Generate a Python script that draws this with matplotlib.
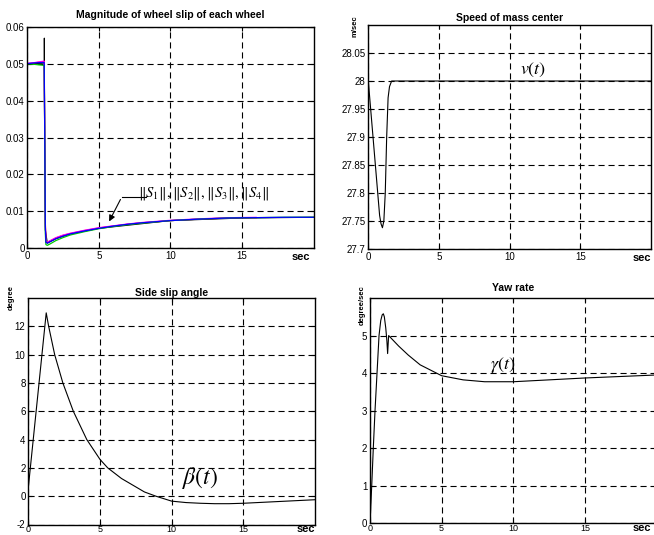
import numpy as np
import matplotlib
matplotlib.use('Agg')
import matplotlib.pyplot as plt

plt.rcParams['font.family'] = ['Liberation Sans', 'DejaVu Sans']
plt.rcParams['mathtext.fontset'] = 'stix'

W, H = 654, 535

# ---- wheel slip (top left) ----
t_slip = [0, 0.5, 1.0, 1.18, 1.22, 1.26, 1.3, 1.4, 1.6, 2.0, 2.5, 3.0, 4.0, 5.0,
          6.0, 7.0, 8.0, 10.0, 12.0, 14.0, 16.0, 18.0, 20.0]
slip_blue = [0.0500, 0.0502, 0.0503, 0.0503, 0.030, 0.006, 0.0016, 0.0014, 0.0018,
             0.0026, 0.0033, 0.0039, 0.0047, 0.0054, 0.0060, 0.0065, 0.0069, 0.0075,
             0.0079, 0.0082, 0.0083, 0.0084, 0.0084]
slip_green = [0.0500, 0.0498, 0.0496, 0.0495, 0.030, 0.004, 0.0010, 0.0008, 0.0012,
              0.0021, 0.0029, 0.0036, 0.0045, 0.0053, 0.0059, 0.0064, 0.0068, 0.0075,
              0.0079, 0.0082, 0.0083, 0.0084, 0.0084]
slip_red = [0.0500, 0.0502, 0.0505, 0.0506, 0.030, 0.007, 0.0018, 0.0016, 0.0020,
            0.0028, 0.0035, 0.0040, 0.0048, 0.0055, 0.0060, 0.0065, 0.0069, 0.0075,
            0.0079, 0.0082, 0.0083]
t_ref = [0, 1.0, 1.19, 1.19, 1.21, 1.26, 1.4, 2.0, 3.0, 5.0, 10.0, 15.0, 20.0]
slip_ref = [0.0500, 0.0501, 0.0502, 0.0569, 0.030, 0.005, 0.0014, 0.0026, 0.0039,
            0.0054, 0.0075, 0.0082, 0.0084]
slip_ticks = [0, 0.01, 0.02, 0.03, 0.04, 0.05, 0.06]
slip_labels = ['0', '0.01', '0.02', '0.03', '0.04', '0.05', '0.06']

# ---- speed (top right) ----
t_v = [0, 0.2, 0.4, 0.6, 0.8, 0.9, 1.0, 1.1, 1.2, 1.3, 1.4, 1.5, 1.65, 2.0, 20.0]
speed = [28.0, 27.94, 27.88, 27.82, 27.76, 27.745, 27.738, 27.75, 27.80, 27.90,
         27.97, 27.99, 28.0, 28.0, 28.0]
v_ticks = [27.7, 27.75, 27.8, 27.85, 27.9, 27.95, 28.0, 28.05]
v_labels = ['27.7', '27.75', '27.8', '27.85', '27.9', '27.95', '28', '28.05']

# ---- side slip angle (bottom left) ----
t_b = [0, 1.25, 1.42, 1.84, 2.41, 3.14, 4.08, 5.0, 5.54, 6.5, 8.1, 8.9, 10, 11, 12,
       13, 14, 15, 17, 20]
beta = [0.6, 12.95, 12.0, 10.0, 8.0, 6.0, 4.0, 2.6, 2.0, 1.25, 0.3, 0.0, -0.35,
        -0.45, -0.5, -0.53, -0.53, -0.5, -0.4, -0.25]
b_ticks = [-2, 0, 2, 4, 6, 8, 10, 12]

# ---- yaw rate (bottom right) ----
t_y = [0, 0.12, 0.23, 0.35, 0.49, 0.63, 0.75, 0.85, 0.93, 1.0, 1.1, 1.18, 1.23,
       1.3, 1.6, 2.0, 2.67, 3.5, 5.0, 6.5, 8.0, 10.0, 12.5, 15.0, 17.5, 20.0]
yaw = [0.0, 1.0, 2.0, 3.0, 4.0, 5.0, 5.4, 5.55, 5.58, 5.5, 5.2, 4.85, 4.52,
       5.0, 4.88, 4.72, 4.48, 4.22, 3.93, 3.82, 3.77, 3.77, 3.82, 3.87, 3.91, 3.95]
y_ticks = [0, 1, 2, 3, 4, 5]

x_ticks = [0, 5, 10, 15]

fig = plt.figure(figsize=(W / 100, H / 100), dpi=100)


def box(l, r, t, b):
    return [l / W, 1 - b / H, (r - l) / W, (b - t) / H]


def style(ax, yt, yl, ylim, sec_dx=0, sec_dy=-8, xpad=2, xsize=7):
    ax.set_xlim(0, 20)
    ax.set_ylim(*ylim)
    ax.set_xticks(x_ticks)
    ax.set_xticklabels([str(v) for v in x_ticks])
    ax.set_yticks(yt)
    ax.set_yticklabels(yl)
    ax.tick_params(direction='in', length=3, width=0.8, labelsize=7, pad=2,
                   top=True, right=True)
    ax.tick_params(axis='x', pad=xpad, labelsize=xsize)
    ax.grid(True, color='black', linestyle=(0, (5.5, 3.5)), linewidth=0.8)
    for s in ax.spines.values():
        s.set_linewidth(1.0)
    ax.annotate('sec', xy=(1, 0), xycoords='axes fraction',
                xytext=(sec_dx, sec_dy), textcoords='offset pixels',
                ha='right', va='center', fontsize=8, fontweight='bold')


# top left
ax1 = fig.add_axes(box(27.3, 313.5, 26.7, 248.3))
ax1.plot(t_ref, slip_ref, color='black', lw=0.8)
ax1.plot(t_slip[:len(slip_red)], slip_red, color='red', lw=0.9)
ax1.plot(t_slip[:len(slip_red)], [v + 0.0001 for v in slip_red], color='magenta', lw=0.8)
ax1.plot(t_slip, slip_green, color='#00cc00', lw=0.9)
ax1.plot(t_slip, slip_blue, color='blue', lw=0.9)
style(ax1, slip_ticks, slip_labels, (0, 0.06), sec_dx=-3, sec_dy=-9)
ax1.annotate('', xy=(5.63, 0.0066), xytext=(6.6, 0.0139),
             arrowprops=dict(arrowstyle='-|>', color='black', lw=0.8,
                             mutation_scale=9))
ax1.plot([6.6, 8.3], [0.0139, 0.0139], color='black', lw=0.8)
ax1.text(12.3, 0.0149,
         r'$\Vert S_1\Vert,\Vert S_2\Vert,\Vert S_3\Vert,\Vert S_4\Vert$',
         ha='center', va='center', fontsize=10.5)
fig.text(170 / W, 1 - 15 / H, 'Magnitude of wheel slip of each wheel',
         ha='center', va='center', fontsize=7.5, fontweight='bold')

# top right
ax2 = fig.add_axes(box(368.3, 651, 25, 249))
ax2.plot(t_v, speed, color='black', lw=0.8)
style(ax2, v_ticks, v_labels, (27.7, 28.1), sec_dy=-9)
ax2.text(11.65, 28.02, r'$v(t)$', ha='center', va='center', fontsize=13)
fig.text(510 / W, 1 - 18 / H, 'Speed of mass center',
         ha='center', va='center', fontsize=7.5, fontweight='bold')
fig.text(355 / W, 1 - 26 / H, 'm/sec', rotation=90, ha='center', va='center',
         fontsize=5.5, fontweight='bold')

# bottom left
ax3 = fig.add_axes(box(28.3, 315, 298, 524.5))
ax3.plot(t_b, beta, color='black', lw=0.8)
style(ax3, b_ticks, [str(v) for v in b_ticks], (-2, 14), sec_dy=-5,
      xpad=0.5, xsize=6.5)
ax3.text(12.0, 1.3, r'$\beta(t)$', ha='center', va='center', fontsize=17)
fig.text(172 / W, 1 - 293 / H, 'Side slip angle',
         ha='center', va='center', fontsize=7.5, fontweight='bold')
fig.text(11 / W, 1 - 298 / H, 'degree', rotation=90, ha='center', va='center',
         fontsize=5.5, fontweight='bold')

# bottom right
ax4 = fig.add_axes(box(370, 656.6, 298, 523.3))
ax4.plot(t_y, yaw, color='black', lw=0.8)
style(ax4, y_ticks, [str(v) for v in y_ticks], (0, 6), sec_dx=-5, sec_dy=-5,
      xpad=0.5, xsize=6.5)
ax4.text(9.3, 4.22, r'$\gamma(t)$', ha='center', va='center', fontsize=13)
fig.text(513 / W, 1 - 288 / H, 'Yaw rate',
         ha='center', va='center', fontsize=7.5, fontweight='bold')
fig.text(362 / W, 1 - 305 / H, 'degree/sec', rotation=90, ha='center', va='center',
         fontsize=5.5, fontweight='bold')

fig.savefig('out.png', dpi=100)
